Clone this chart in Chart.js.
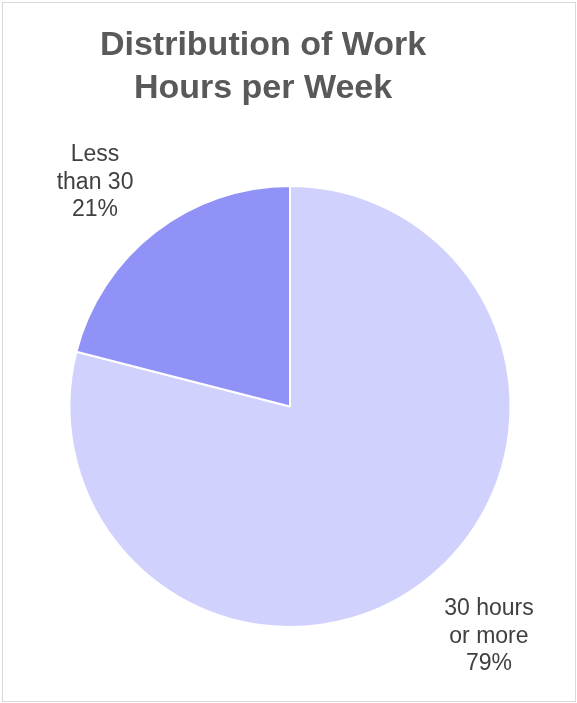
<!DOCTYPE html>
<html>
<head>
<meta charset="utf-8">
<script src="https://cdn.jsdelivr.net/npm/chart.js@4/dist/chart.umd.min.js"></script>
<style>
    body { margin: 0; background: #fff; }
    #wrap { position: relative; width: 577px; height: 703px; }
    #frame { position: absolute; left: 2px; top: 2px; width: 572px; height: 698px; border: 1px solid #d9d9d9; pointer-events: none; }
    canvas { position: absolute; left: 0; top: 0; }
</style>
</head>
<body>
<div id="wrap">
    <canvas id="myChart" width="577" height="703"></canvas>
    <div id="frame"></div>
</div>
<script>
    var titleLines = ['Distribution of Work', 'Hours per Week'];
    var categories = [['30 hours', 'or more'], ['Less', 'than 30']];
    var hours = [79, 21];
    var sliceColors = ['#D0D1FC', '#9192F7'];

    // Excel centres the title a bit left of the pie
    var titleShift = {
        id: 'titleShift',
        afterLayout: function(chart) {
            var t = chart.titleBlock;
            var d = 263 - (t.left + t.right) / 2;
            t.left += d;
            t.right += d;
        }
    };

    var outsideLabels = {
        id: 'outsideLabels',
        afterDatasetsDraw: function(chart) {
            var ctx = chart.ctx;
            var meta = chart.getDatasetMeta(0);
            var total = hours.reduce(function(a, b) { return a + b; }, 0);
            ctx.save();
            ctx.font = '23px "Liberation Sans", Arial, sans-serif';
            ctx.fillStyle = '#404040';
            ctx.textAlign = 'center';
            ctx.textBaseline = 'middle';
            meta.data.forEach(function(arc, i) {
                var p = arc.getProps(['x', 'y', 'startAngle', 'endAngle', 'outerRadius'], true);
                var mid = (p.startAngle + p.endAngle) / 2 - 0.055;
                var r = p.outerRadius + 80;
                var cx = p.x + Math.cos(mid) * r + 2;
                var cy = p.y + Math.sin(mid) * r + 3;
                var lines = categories[i].concat([Math.round(hours[i] / total * 100) + '%']);
                var lh = 27.5;
                lines.forEach(function(line, j) {
                    ctx.fillText(line, cx, cy + (j - (lines.length - 1) / 2) * lh);
                });
            });
            ctx.restore();
        }
    };

    var ctx = document.getElementById('myChart');
    var myPieChart = new Chart(ctx, {
        type: 'pie',
        data: {
            labels: categories,
            datasets: [{
                data: hours,
                backgroundColor: sliceColors,
                borderColor: '#ffffff',
                borderWidth: 2
            }]
        },
        options: {
            responsive: false,
            animation: false,
            layout: {
                padding: { left: 68, right: 65, top: 0, bottom: 75 }
            },
            plugins: {
                legend: { display: false },
                tooltip: { enabled: false },
                title: {
                    display: true,
                    text: titleLines,
                    color: '#595959',
                    font: { family: '"Liberation Sans", Arial, sans-serif', size: 34, weight: 'bold', lineHeight: 1.265 },
                    padding: { top: 23.7, bottom: 75.3 }
                }
            }
        },
        plugins: [titleShift, outsideLabels]
    });
</script>
</body>
</html>
